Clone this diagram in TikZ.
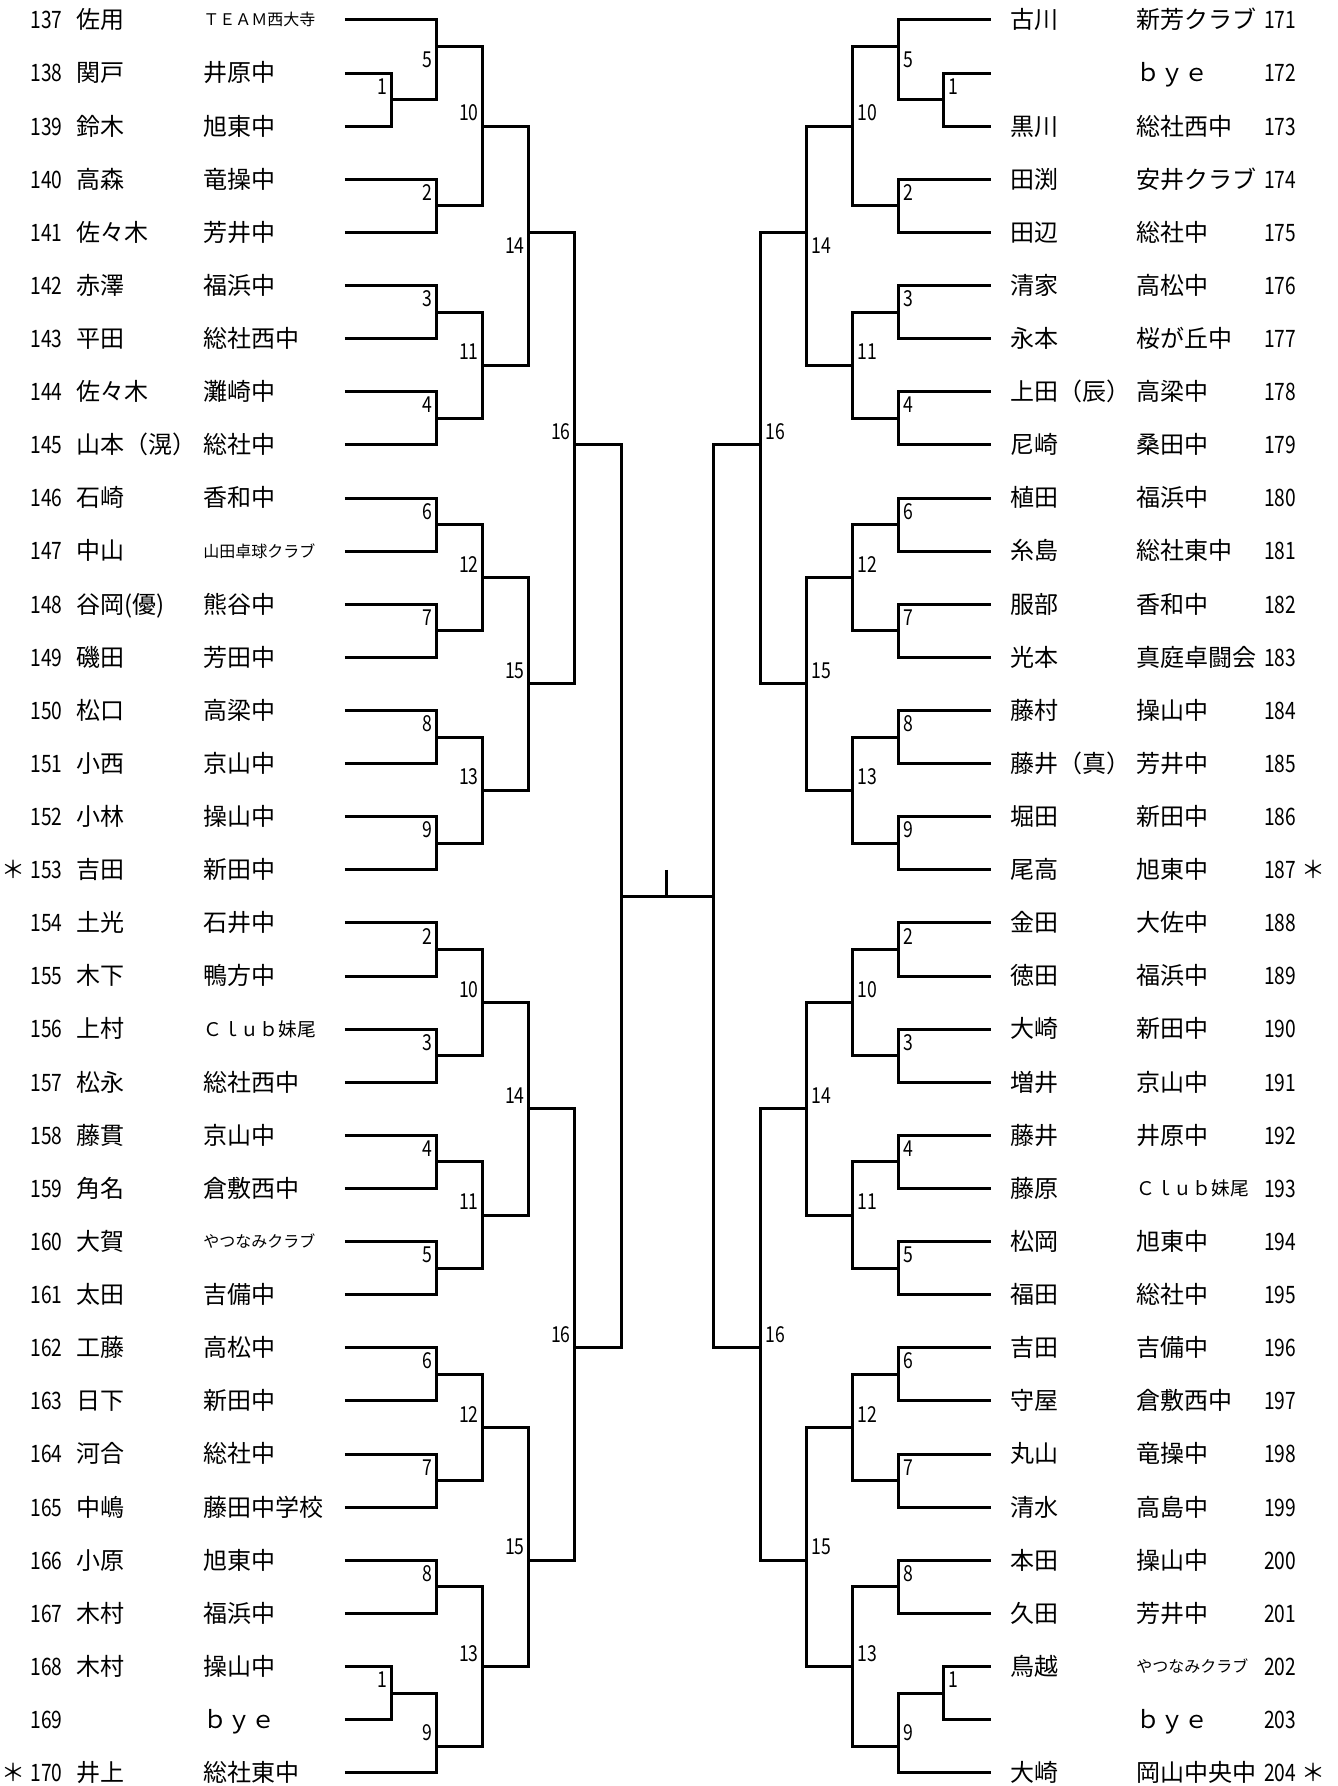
\documentclass[tikz,border=0pt]{standalone}
\usepackage{graphicx}
\usepackage{fontspec}
\setmainfont{Noto Sans CJK JP}
\usepackage{tikz}
\usetikzlibrary{positioning}

\tikzset{
    bracket/.style={line width=1.5pt},
    entry/.style={anchor=base west, inner sep=0pt, yshift=-4.4pt, font=\fontsize{12}{14}\selectfont},
    roundno/.style={inner sep=0pt, font=\fontsize{11}{13}\selectfont},
}
% narrow digits and small club names
\newcommand{\nar}[1]{\scalebox{0.8}[1]{#1}}
\newcommand{\sm}[2][8]{\raisebox{\dimexpr 4.4pt-#1pt*37/100\relax}{\fontsize{#1}{#1}\selectfont #2}}

\begin{document}
\begin{tikzpicture}[x=0.5pt, y=-13.28pt]
    \useasboundingbox (0,-0.753) rectangle (1338,66.4985);
    % Left entries 137-170
    \foreach \nm/\sc [count=\i from 0] in {佐用/\sm{ＴＥＡＭ西大寺}, 関戸/井原中, 鈴木/旭東中, 高森/竜操中,
        佐々木/芳井中, 赤澤/福浜中, 平田/総社西中, 佐々木/灘崎中, 山本（滉）/総社中, 石崎/香和中,
        中山/\sm{山田卓球クラブ}, 谷岡(優)/熊谷中, 磯田/芳田中, 松口/高梁中, 小西/京山中, 小林/操山中,
        吉田/新田中, 土光/石井中, 木下/鴨方中, 上村/\sm[9.4]{Ｃｌｕｂ妹尾}, 松永/総社西中, 藤貫/京山中,
        角名/倉敷西中, 大賀/\sm{やつなみクラブ}, 太田/吉備中, 工藤/高松中, 日下/新田中, 河合/総社中,
        中嶋/藤田中学校, 小原/旭東中, 木村/福浜中, 木村/操山中, {}/ｂｙｅ, 井上/総社東中}{
        \pgfmathtruncatemacro{\num}{137+\i}
        \node[entry] (Lnum\i) at (30,{2*\i}) {\nar{\num}};
        \node[entry] (Lname\i) at (76,{2*\i}) {\nm};
        \node[entry] (Lsch\i) at (203,{2*\i}) {\sc};
        \coordinate (Lp\i) at (345,{2*\i});
    }
    % Right entries 171-204
    \foreach \nm/\sc [count=\i from 0] in {古川/新芳クラブ, {}/ｂｙｅ, 黒川/総社西中, 田渕/安井クラブ,
        田辺/総社中, 清家/高松中, 永本/桜が丘中, 上田（辰）/高梁中, 尼崎/桑田中, 植田/福浜中,
        糸島/総社東中, 服部/香和中, 光本/真庭卓闘会, 藤村/操山中, 藤井（真）/芳井中, 堀田/新田中,
        尾高/旭東中, 金田/大佐中, 徳田/福浜中, 大崎/新田中, 増井/京山中, 藤井/井原中,
        藤原/\sm[9.4]{Ｃｌｕｂ妹尾}, 松岡/旭東中, 福田/総社中, 吉田/吉備中, 守屋/倉敷西中, 丸山/竜操中,
        清水/高島中, 本田/操山中, 久田/芳井中, 鳥越/\sm{やつなみクラブ}, {}/ｂｙｅ, 大崎/岡山中央中}{
        \pgfmathtruncatemacro{\num}{171+\i}
        \node[entry] (Rname\i) at (1010,{2*\i}) {\nm};
        \node[entry] (Rsch\i) at (1136,{2*\i}) {\sc};
        \node[entry] (Rnum\i) at (1264,{2*\i}) {\nar{\num}};
        \coordinate (Rp\i) at (991,{2*\i});
    }
    % Seed marks
    \node[entry] (Lstar16) at (1.5,32) {＊};
    \node[entry] (Lstar33) at (1.5,66) {＊};
    \node[entry] (Rstar16) at (1301.5,32) {＊};
    \node[entry] (Rstar33) at (1301.5,66) {＊};
    % Brackets, both sides
    \foreach \s/\sg/\an in {L/1/east, R/-1/west}{
        \foreach \m/\xl/\ko/\kl/\lab/\a/\b in {A1/392/3/2.5/1/p1/p2, A5/437/1/1.5/5/p0/A1,
            A2/437/7/6.5/2/p3/p4, A10/483/4/3.5/10/A5/A2, A3/437/11/10.5/3/p5/p6,
            A4/437/15/14.5/4/p7/p8, A11/483/13/12.5/11/A3/A4, A14/529/8/8.5/14/A10/A11,
            A6/437/19/18.5/6/p9/p10, A7/437/23/22.5/7/p11/p12, A12/483/21/20.5/12/A6/A7,
            A8/437/27/26.5/8/p13/p14, A9/437/31/30.5/9/p15/p16, A13/483/29/28.5/13/A8/A9,
            A15/529/25/24.5/15/A12/A13, A16/575/16/15.5/16/A14/A15,
            B2/437/35/34.5/2/p17/p18, B3/437/39/38.5/3/p19/p20, B10/483/37/36.5/10/B2/B3,
            B4/437/43/42.5/4/p21/p22, B5/437/47/46.5/5/p23/p24, B11/483/45/44.5/11/B4/B5,
            B14/529/41/40.5/14/B10/B11, B6/437/51/50.5/6/p25/p26, B7/437/55/54.5/7/p27/p28,
            B12/483/53/52.5/12/B6/B7, B8/437/59/58.5/8/p29/p30, B1/392/63/62.5/1/p31/p32,
            B9/437/65/64.5/9/B1/p33, B13/483/62/61.5/13/B8/B9, B15/529/58/57.5/15/B12/B13,
            B16/575/50/49.5/16/B14/B15}{
            \coordinate (\s\m) at ({668+(\sg)*(\xl-668)},\ko);
            \draw[bracket] (\s\a) -- (\s\a -| \s\m) -- (\s\m);
            \draw[bracket] (\s\b) -- (\s\b -| \s\m) -- (\s\m);
            \node[roundno, anchor=\an] (\s lab\m) at ({668+(\sg)*(\xl-672)},\kl) {\nar{\lab}};
        }
        % semifinal
        \coordinate (\s S) at ({668+(\sg)*(622-668)},33);
        \draw[bracket] (\s A16) -- (\s A16 -| \s S) -- (\s S);
        \draw[bracket] (\s B16) -- (\s B16 -| \s S) -- (\s S);
    }
    % Final
    \draw[bracket] (LS) -- (RS);
    \coordinate (Ftop) at (667,32);
    \coordinate (Fmid) at (667,33);
    \draw[bracket] (Ftop) -- (Fmid);
\end{tikzpicture}
\end{document}
